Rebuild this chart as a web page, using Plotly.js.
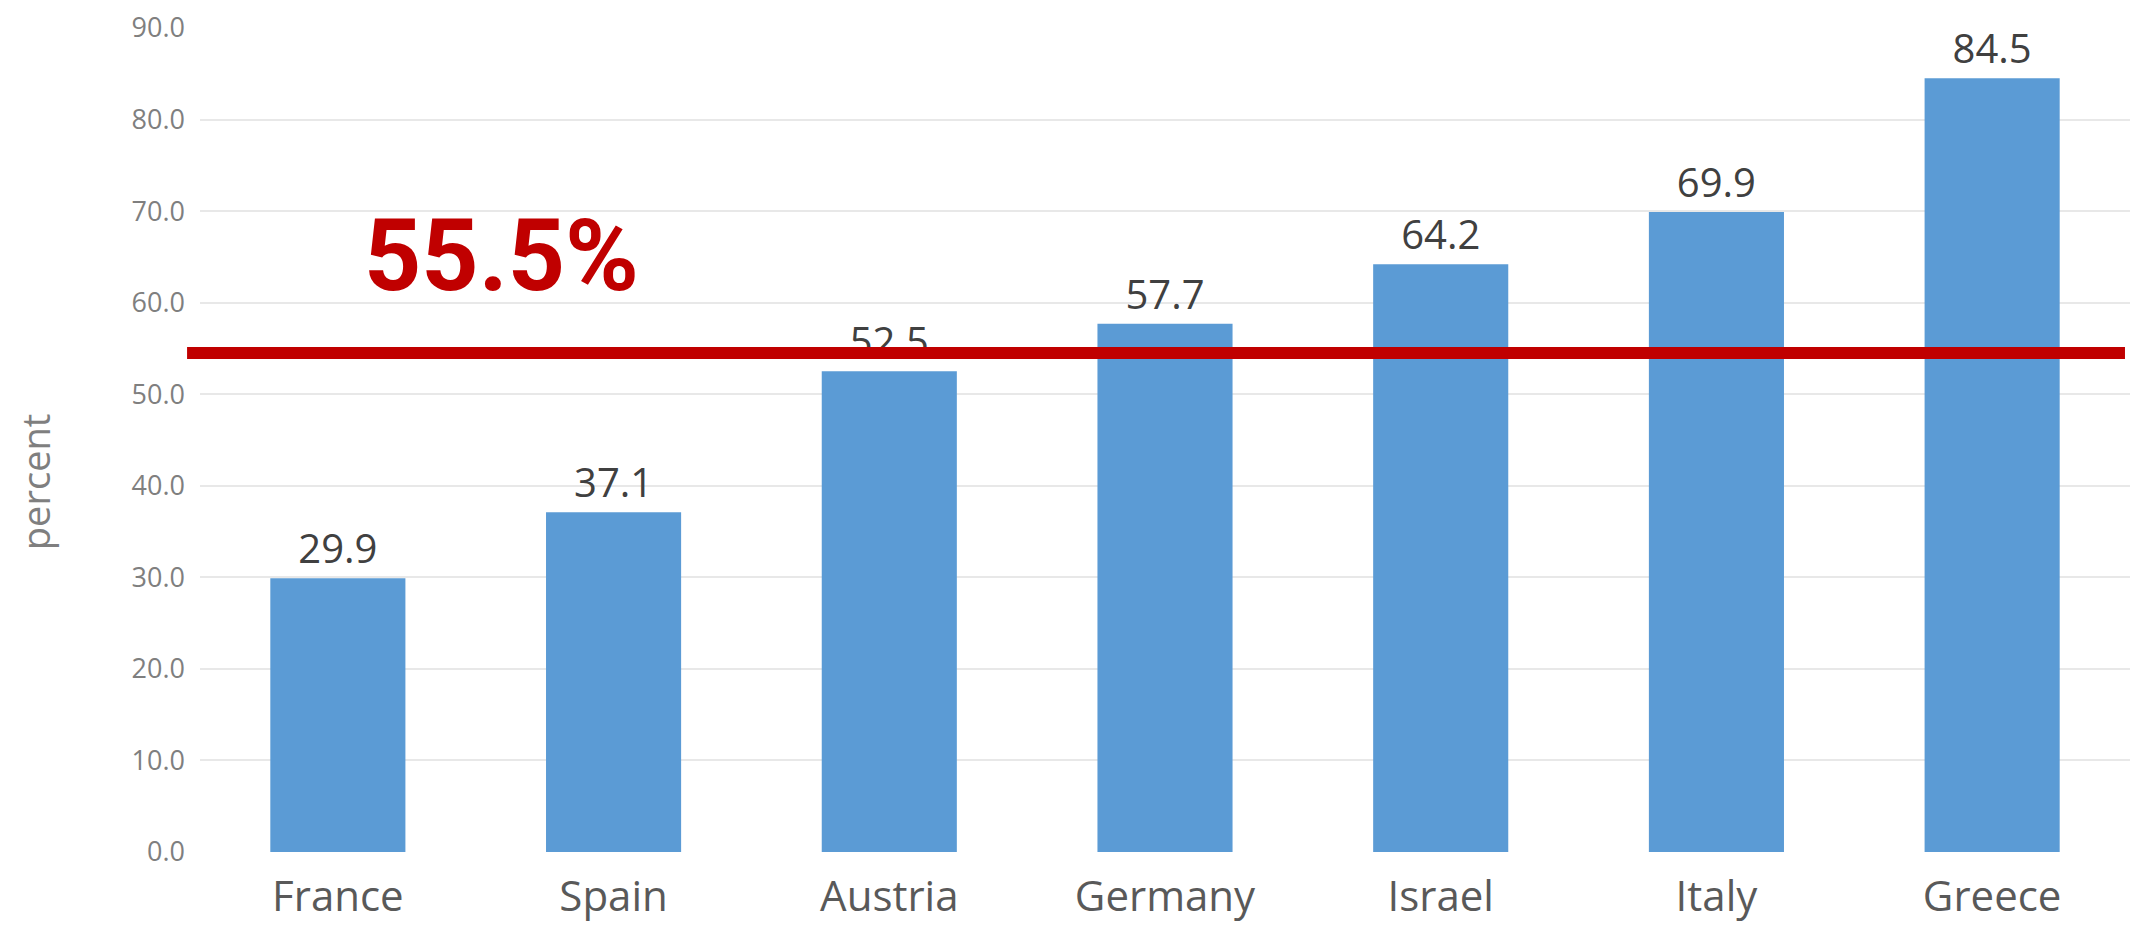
<!DOCTYPE html>
<html>
<head>
<meta charset="utf-8">
<script src="https://cdn.plot.ly/plotly-3.0.1.min.js"></script>
<style>html,body{margin:0;padding:0;background:#fff;}#chart{width:2139px;height:929px;}</style>
</head>
<body>
<div id="chart"></div>
<script>
const countries = ["France", "Spain", "Austria", "Germany", "Israel", "Italy", "Greece"];
const percentValues = [29.9, 37.1, 52.5, 57.7, 64.2, 69.9, 84.5];
const valueLabels = ["29.9", "37.1", "52.5", "57.7", "64.2", "69.9", "84.5"];
const referenceLineValue = 54.5;
const referenceLabel = "55.5%";
const yTickValues = [0, 10, 20, 30, 40, 50, 60, 70, 80, 90];
const yAxisTitle = "percent";

const trace = {
  type: "bar",
  x: countries,
  y: percentValues,
  text: valueLabels,
  textposition: "outside",
  constraintext: "none",
  cliponaxis: false,
  textfont: {family: "Open Sans", size: 40, color: "#404040"},
  marker: {color: "#5B9BD5"},
  width: 0.49,
  hoverinfo: "x+y"
};

const layout = {
  width: 2139,
  height: 929,
  margin: {l: 200, r: 9, t: 28, b: 77},
  paper_bgcolor: "#ffffff",
  plot_bgcolor: "#ffffff",
  showlegend: false,
  xaxis: {
    type: "category",
    range: [-0.5, 6.5],
    showgrid: false,
    showline: false,
    zeroline: false,
    ticks: "",
    ticklabelstandoff: 16,
    tickfont: {family: "Open Sans", size: 42, color: "#595959"}
  },
  yaxis: {
    range: [0, 90],
    tickvals: yTickValues,
    tickformat: ".1f",
    showgrid: true,
    gridcolor: "#e8e8e8",
    gridwidth: 2,
    zeroline: false,
    showline: false,
    ticks: "",
    ticklabelstandoff: 14,
    tickfont: {family: "Open Sans", size: 27, color: "#7f7f7f"}
  },
  shapes: [{
    type: "line",
    xref: "paper", yref: "y",
    x0: -0.0067, x1: 0.9974,
    y0: referenceLineValue, y1: referenceLineValue,
    line: {color: "#C00000", width: 12},
    layer: "above"
  }],
  annotations: [
    {
      text: "<b>" + referenceLabel + "</b>",
      xref: "paper", yref: "y",
      x: 0.156, y: 65.2,
      xanchor: "center", yanchor: "middle",
      showarrow: false,
      font: {family: "Roboto", size: 100, color: "#C00000"}
    },
    {
      text: yAxisTitle,
      xref: "paper", yref: "paper",
      x: -0.0855, y: 0.45,
      xanchor: "center", yanchor: "middle",
      textangle: -90,
      showarrow: false,
      font: {family: "Open Sans", size: 38, color: "#7f7f7f"}
    }
  ]
};

Plotly.newPlot("chart", [trace], layout, {displayModeBar: false, staticPlot: true});
</script>
</body>
</html>
